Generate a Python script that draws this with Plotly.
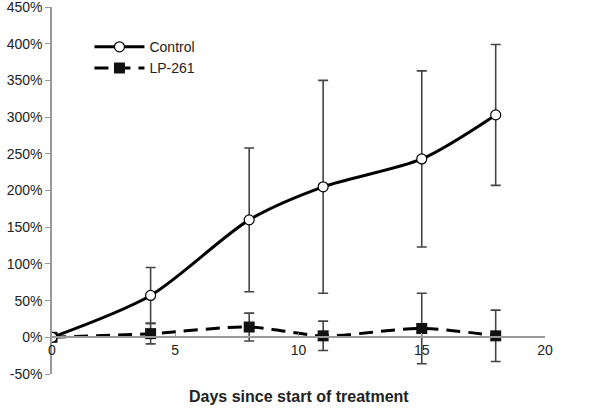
import plotly.graph_objects as go

days = [0, 4, 8, 11, 15, 18]
control = [0, 57, 160, 205, 243, 303]
control_err = [0, 38, 98, 145, 120, 96]
lp261 = [0, 5, 14, 2, 12, 2]
lp261_err = [0, 14, 19, 20, 48, 35]

y_ticks = [-50, 0, 50, 100, 150, 200, 250, 300, 350, 400, 450]
y_labels = [f"{v}%" for v in y_ticks]
x_ticks = [0, 5, 10, 15, 20]

fig = go.Figure()
fig.add_trace(go.Scatter(
    x=days, y=lp261, name="LP-261", mode="lines+markers", legendgroup="b",
    line=dict(color="black", width=3, dash="14px,8px", shape="spline", smoothing=0.8),
    marker=dict(symbol="square", size=11, color="#111"),
    error_y=dict(type="data", array=lp261_err, visible=True, color="#444", thickness=1.6, width=5),
))
fig.add_trace(go.Scatter(
    x=days, y=control, name="Control", mode="lines+markers", legendgroup="a",
    line=dict(color="black", width=3, shape="spline", smoothing=0.8),
    marker=dict(symbol="circle", size=10, color="white", line=dict(color="black", width=1.2)),
    error_y=dict(type="data", array=control_err, visible=True, color="#444", thickness=1.6, width=5),
))

fig.update_layout(
    width=600, height=413,
    margin=dict(l=52, r=55, t=7, b=39, autoexpand=False),
    plot_bgcolor="white", paper_bgcolor="white",
    font=dict(family="Liberation Sans, Arial, sans-serif", size=14, color="#222"),
    showlegend=True,
    legend=dict(x=0.076, y=0.934, xanchor="left", yanchor="top", traceorder="reversed",
                tracegroupgap=7, bgcolor="rgba(0,0,0,0)", font=dict(size=14), itemwidth=50),
    xaxis=dict(range=[0, 20], tickvals=x_ticks, ticktext=[str(v) for v in x_ticks],
               showgrid=False, zeroline=False, showline=True, linecolor="#999", linewidth=1.5,
               ticks="inside", ticklen=4, tickcolor="#999", anchor="free", position=0.1,
               tickfont=dict(size=14), automargin=False, ticklabeloverflow="allow"),
    yaxis=dict(range=[-50, 450], tickvals=y_ticks, ticktext=y_labels,
               showgrid=False, zeroline=False, showline=True, linecolor="#999", linewidth=1.5,
               ticks="outside", ticklen=5, tickcolor="#999", tickfont=dict(size=14),
               automargin=False, ticklabeloverflow="allow"),
    annotations=[dict(text="<b>Days since start of treatment</b>", x=0.5, y=-0.06,
                      xref="paper", yref="paper", showarrow=False, xanchor="center", yanchor="middle",
                      font=dict(size=16, color="#222"))],
)

fig.write_html("out.html", config={"displayModeBar": False},
               post_script="document.body.style.margin='0px';")
